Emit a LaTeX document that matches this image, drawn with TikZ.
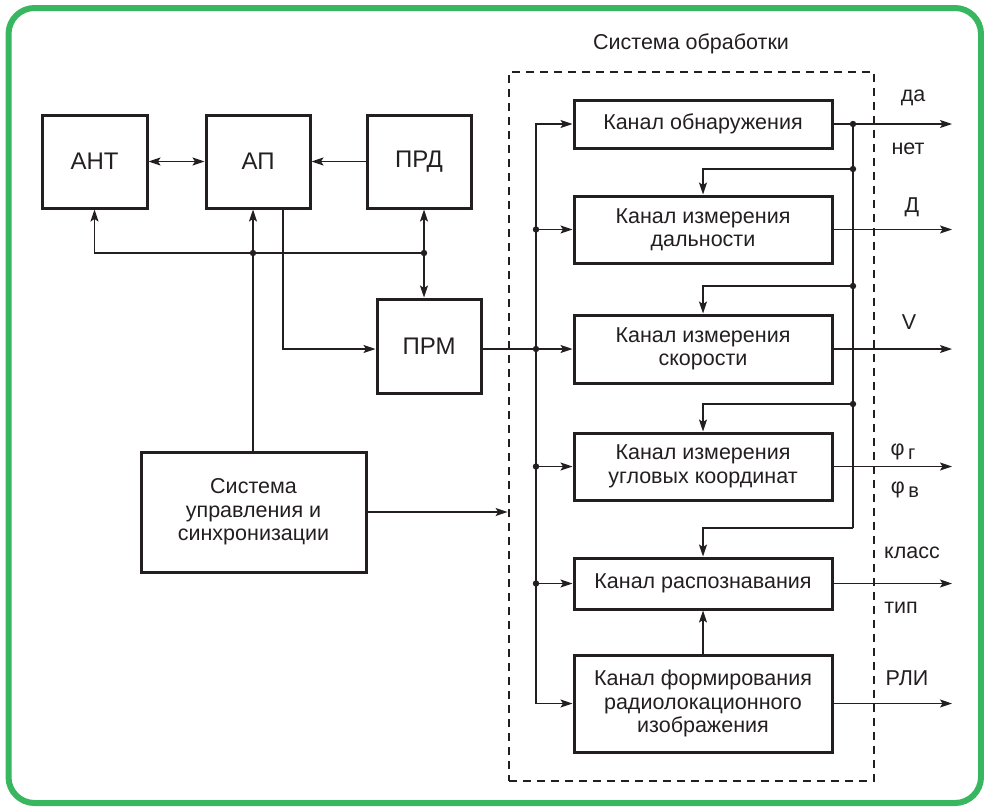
\documentclass[tikz,border=0pt]{standalone}
\usepackage{fontspec}
\setmainfont{Liberation Sans}
\usetikzlibrary{arrows.meta}
\definecolor{framegreen}{RGB}{56,182,96}
\definecolor{ink}{RGB}{35,31,32}
\begin{document}
\begin{tikzpicture}[x=1pt, y=-1pt, ink,
        blk/.style={draw=ink, line width=3pt, inner sep=0pt, align=center,
            font=\fontsize{21.5}{23.5}\selectfont},
        big/.style={font=\fontsize{24}{26}\selectfont},
        lbl/.style={inner sep=0pt, font=\fontsize{21.5}{23.5}\selectfont},
        link/.style={line width=1.4pt},
        arr/.style={link, -{Stealth[length=12pt, width=8pt, inset=2.5pt]}},
        biarr/.style={link, {Stealth[length=12pt, width=8pt, inset=2.5pt]}-{Stealth[length=12pt, width=8pt, inset=2.5pt]}}]
    \useasboundingbox (0,0) rectangle (984,806);

    % green frame
    \draw[framegreen, line width=6pt, rounded corners=26pt] (8.5,8) rectangle (981,803);

    % radar blocks
    \node[blk, big, minimum width=105pt, minimum height=93pt] (ant) at (94.5,161.5) {АНТ};
    \node[blk, big, minimum width=104pt, minimum height=93pt] (ap)  at (258,161.5) {АП};
    \node[blk, big, minimum width=104pt, minimum height=93pt] (prd) at (419,161.5) {ПРД};
    \node[blk, big, minimum width=104pt, minimum height=94pt] (prm) at (429,346) {ПРМ};
    \node[blk, minimum width=225pt, minimum height=120pt] (sys) at (253.5,512)
        {Система\\управления и\\синхронизации};

    % processing system
    \node[draw=ink, line width=2.8pt, dash pattern=on 8pt off 6pt,
        minimum width=365pt, minimum height=709pt] (proc) at (691.5,426.5) {};
    \node[lbl] (title) at (691,44) {Система обработки};

    \node[blk, minimum width=258pt, minimum height=48pt] (obn)  at (703,124) {Канал обнаружения};
    \node[blk, minimum width=258pt, minimum height=67pt] (dal)  at (703,229.5) {Канал измерения\\дальности};
    \node[blk, minimum width=258pt, minimum height=68pt] (skor) at (703,349) {Канал измерения\\скорости};
    \node[blk, minimum width=258pt, minimum height=67pt] (ugl)  at (703,466.5) {Канал измерения\\угловых координат};
    \node[blk, minimum width=258pt, minimum height=51pt] (rasp) at (703,583.5) {Канал распознавания};
    \node[blk, minimum width=258pt, minimum height=97pt] (form) at (703,703.5)
        {Канал формирования\\радиолокационного\\изображения};

    \coordinate (lbus) at (536,0);
    \coordinate (rbus) at (853,0);
    \coordinate (out)  at (952,0);
    \coordinate (jap)  at (253,253);
    \coordinate (jprd) at (424,253);

    % front end links
    \draw[biarr] (ant) -- (ap);
    \draw[arr] (prd) -- (ap);
    \draw[arr] (jprd) -- (jap) -| (ant);
    \draw[arr] (sys.north -| jap) -- (jap |- ap.south);
    \draw[arr] (jprd) -- (jprd |- prd.south);
    \draw[arr] (jprd) -- (jprd |- prm.north);
    \draw[arr] ([xshift=25pt]ap.south) |- (prm.west |- skor);
    \draw[link] (prm.east |- skor) -- (lbus |- skor);
    \draw[arr] (sys) -- (sys -| proc.west);
    \foreach \j in {jap, jprd}
        \fill (\j) circle (3.2pt);

    % left bus
    \draw[arr] (lbus |- form) |- (obn);
    \draw[arr] (lbus |- form) -- (form);
    \foreach \n in {dal, skor, ugl, rasp} {
        \fill (lbus |- \n) circle (3.2pt);
        \draw[arr] (lbus |- \n) -- (\n);
    }

    % outputs
    \foreach \n in {obn, dal, skor, ugl, rasp, form}
        \draw[arr] (\n) -- (\n -| out);

    % detection feedback
    \draw[link] (rbus |- obn) -- (853,528);
    \draw[arr] (853,528) -| (rasp);
    \foreach \y/\n in {169/dal, 286/skor, 404/ugl} {
        \fill (853,\y) circle (3.2pt);
        \draw[arr] (853,\y) -| (\n);
    }
    \fill (rbus |- obn) circle (3.2pt);
    \draw[arr] (form) -- (rasp);

    % output labels
    \node[lbl] (yes)   at (913,98)  {да};
    \node[lbl] (no)    at (908,149) {нет};
    \node[lbl] (range) at (912,207) {Д};
    \node[lbl] (vel)   at (909,322) {V};
    \node[lbl] (phig)  at (903,452) {φ\,\raisebox{-4pt}{\fontsize{20}{20}\selectfont г}};
    \node[lbl] (phiv)  at (905,490) {φ\,\raisebox{-4pt}{\fontsize{20}{20}\selectfont в}};
    \node[lbl] (cls)   at (912,553) {класс};
    \node[lbl] (typ)   at (901,608) {тип};
    \node[lbl] (rli)   at (907,678) {РЛИ};
\end{tikzpicture}
\end{document}
